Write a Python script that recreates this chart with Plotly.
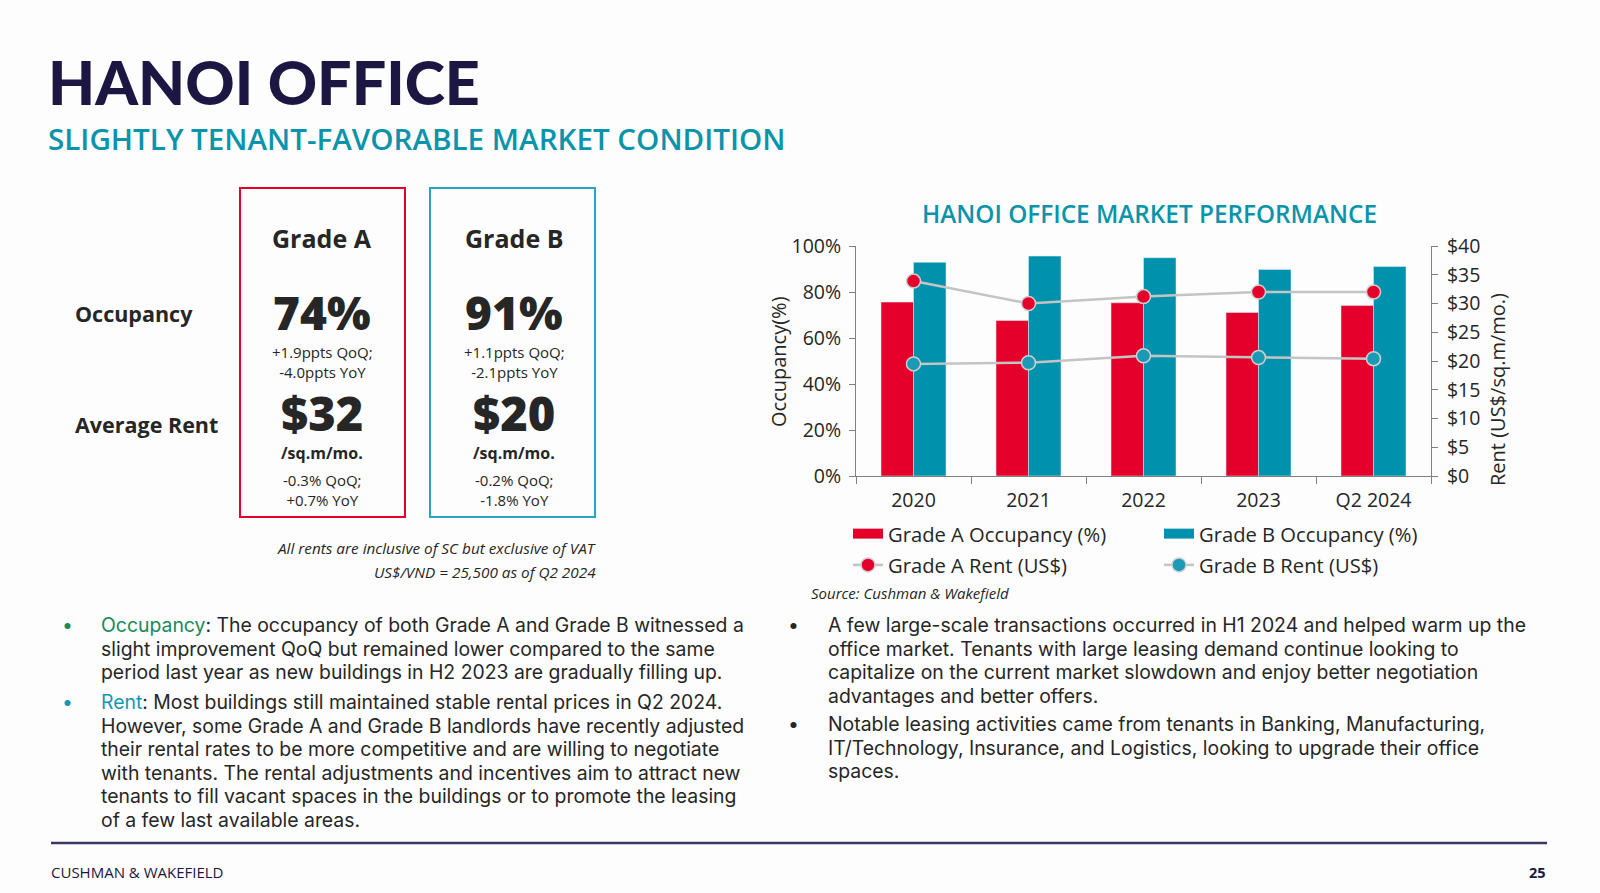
import plotly.graph_objects as go

# ---------------- data ----------------
categories = ["2020", "2021", "2022", "2023", "Q2 2024"]
grade_a_occ = [75.6, 67.6, 75.3, 71.1, 74.1]
grade_b_occ = [92.9, 95.6, 94.9, 89.8, 91.1]
grade_a_rent = [33.9, 30.0, 31.2, 32.0, 32.0]
grade_b_rent = [19.5, 19.7, 20.9, 20.6, 20.4]

left_ticks = [0, 20, 40, 60, 80, 100]
left_labels = [f"{v}%" for v in left_ticks]
right_ticks = [0, 5, 10, 15, 20, 25, 30, 35, 40]
right_labels = [f"${v}" for v in right_ticks]

RED = "#e4002b"
TEAL = "#0092ad"
TEAL_BOX = "#2aa3c3"
TEAL_TXT = "#0a94ab"
NAVY = "#1c1642"
DARK = "#262626"
GRAY_AX = "#808080"
FONT = "Open Sans"
BODY_FONT = "Inter"

W, H = 1600, 893
L, R, T, B = 856, 1431, 246, 476


def fx(px):
    return (px - L) / (R - L)


def fy(py):
    return (B - py) / (B - T)


fig = go.Figure()

fig.add_trace(go.Bar(x=categories, y=grade_a_occ, name="Grade A Occupancy (%)",
                     marker_color=RED, showlegend=False, yaxis="y"))
fig.add_trace(go.Bar(x=categories, y=grade_b_occ, name="Grade B Occupancy (%)",
                     marker_color=TEAL, showlegend=False, yaxis="y"))

# legend swatches for the bars (wide rectangles)
fig.add_trace(go.Scatter(x=[None], y=[None], mode="lines", name="Grade A Occupancy (%)",
                         line=dict(color=RED, width=10), legend="legend",
                         legendgroup="a1", legendrank=1))
fig.add_trace(go.Scatter(x=[None], y=[None], mode="lines", name="Grade B Occupancy (%)",
                         line=dict(color=TEAL, width=10), legend="legend2",
                         legendgroup="b1", legendrank=1))

fig.add_trace(go.Scatter(x=categories, y=grade_a_rent, name="Grade A Rent (US$)", yaxis="y2",
                         mode="lines+markers", line=dict(color="#c4c4c4", width=2.5),
                         marker=dict(color=RED, size=14, line=dict(color="#d0d0d0", width=1.5)),
                         legend="legend", legendgroup="a2", legendrank=2))
fig.add_trace(go.Scatter(x=categories, y=grade_b_rent, name="Grade B Rent (US$)", yaxis="y2",
                         mode="lines+markers", line=dict(color="#c4c4c4", width=2.5),
                         marker=dict(color="#1a9ab5", size=14, line=dict(color="#d0d0d0", width=1.5)),
                         legend="legend2", legendgroup="b2", legendrank=2))

legend_common = dict(orientation="v", xref="container", yref="container", xanchor="left",
                     yanchor="top", bgcolor="rgba(0,0,0,0)", tracegroupgap=2,
                     font=dict(family=FONT, size=20.2, color=DARK), itemwidth=30)

tickfont = dict(family=FONT, size=19.5, color=DARK)

fig.update_layout(
    width=W, height=H,
    margin=dict(l=L, r=W - R, t=T, b=H - B, autoexpand=False),
    paper_bgcolor="#fdfdfd", plot_bgcolor="rgba(0,0,0,0)",
    barmode="group", bargap=0.435, bargroupgap=0,
    font=dict(family=FONT, color=DARK),
    legend=dict(x=848 / W, y=1 - 514 / H, **legend_common),
    legend2=dict(x=1159 / W, y=1 - 514 / H, **legend_common),
    xaxis=dict(type="category", showline=True, linecolor=GRAY_AX, linewidth=1,
               ticks="outside", tickson="boundaries", ticklen=7, tickcolor=GRAY_AX,
               tickfont=tickfont, showgrid=False, ticklabelstandoff=7),
    yaxis=dict(range=[0, 100], tickmode="array", tickvals=left_ticks, ticktext=left_labels,
               showline=True, linecolor=GRAY_AX, ticks="outside", ticklen=6, tickcolor=GRAY_AX,
               showgrid=False, zeroline=False, tickfont=tickfont, ticklabelstandoff=4),
    yaxis2=dict(range=[0, 40], tickmode="array", tickvals=right_ticks, ticktext=right_labels,
                overlaying="y", side="right",
                showline=True, linecolor=GRAY_AX, ticks="outside", ticklen=6, tickcolor=GRAY_AX,
                showgrid=False, zeroline=False, tickfont=tickfont, ticklabelstandoff=5),
)

ann = []


def text(x, y, s, size, color=DARK, bold=False, italic=False, xanchor="left", align="left",
         family=FONT, weight=None, angle=0):
    f = dict(family=family, size=size, color=color)
    if weight is not None:
        f["weight"] = weight
    elif bold:
        f["weight"] = "bold"
    if italic:
        f["style"] = "italic"
    ann.append(dict(x=fx(x), y=fy(y), xref="paper", yref="paper", text=s, showarrow=False,
                    xanchor=xanchor, yanchor="middle", align=align, font=f, textangle=angle))


# headings
text(46, 82, "HANOI OFFICE", 61, color=NAVY, weight=900, family="Lato")
text(46, 138, "SLIGHTLY TENANT-FAVORABLE MARKET CONDITION", 29.6, color=TEAL_TXT, weight=600)

# chart title / axis titles / source
text(1149, 213, "HANOI OFFICE MARKET PERFORMANCE", 24.3, color=TEAL_TXT, weight=600, xanchor="center")
text(778, 362, "Occupancy(%)", 20, angle=-90, xanchor="center")
text(1497, 390, "Rent (US$/sq.m/mo.)", 20, angle=-90, xanchor="center")
text(809, 593, "Source: Cushman &amp; Wakefield", 15, italic=True)

# KPI boxes
shapes = [
    dict(type="rect", xref="paper", yref="paper", x0=fx(240), x1=fx(405), y0=fy(188), y1=fy(517),
         line=dict(color=RED, width=2)),
    dict(type="rect", xref="paper", yref="paper", x0=fx(430), x1=fx(595), y0=fy(188), y1=fy(517),
         line=dict(color=TEAL_BOX, width=2)),
    dict(type="line", xref="paper", yref="paper", x0=fx(51), x1=fx(1547), y0=fy(843), y1=fy(843),
         line=dict(color="#3b3763", width=2.5)),
]

text(73, 313, "Occupancy", 21.5, bold=True)
text(73, 424, "Average Rent", 21.5, bold=True)
for cx, g, occ, occ1, occ2, rent, r1, r2 in [
    (322, "Grade A", "74%", "+1.9ppts QoQ;", "-4.0ppts YoY", "$32", "-0.3% QoQ;", "+0.7% YoY"),
    (514, "Grade B", "91%", "+1.1ppts QoQ;", "-2.1ppts YoY", "$20", "-0.2% QoQ;", "-1.8% YoY"),
]:
    text(cx, 238, g, 25, bold=True, xanchor="center", align="center")
    text(cx, 312, occ, 46, weight=800, xanchor="center", align="center")
    text(cx, 362, occ1 + "<br>" + occ2, 15, xanchor="center", align="center")
    text(cx, 413, rent, 47, weight=800, xanchor="center", align="center")
    text(cx, 453, "/sq.m/mo.", 16, bold=True, xanchor="center", align="center")
    text(cx, 490, r1 + "<br>" + r2, 15, xanchor="center", align="center")

text(598, 548, "All rents are inclusive of SC but exclusive of VAT", 15.3, italic=True, xanchor="right")
text(598, 572, "US$/VND = 25,500 as of Q2 2024", 15.3, italic=True, xanchor="right")

# bullet paragraphs: one annotation per paragraph; the base font size sets the
# line pitch (1.3 x base) while the glyphs are drawn at BODY size through a span.
LH = 23.6
BASE = LH / 1.3
BODY = 19.4


def para(xb, xt, y_first, lines, bullet_color, lead=None, lead_color=None):
    n = len(lines)
    rows = []
    for i, ln in enumerate(lines):
        if i == 0 and lead:
            rows.append(f"<span style='font-size:{BODY}px;color:{lead_color}'>{lead}</span>"
                        f"<span style='font-size:{BODY}px'>{ln}</span>")
        else:
            rows.append(f"<span style='font-size:{BODY}px'>{ln}</span>")
    text(xt, y_first + (n - 1) * LH / 2, "<br>".join(rows), BASE, family=BODY_FONT)
    text(xb, y_first, "•", BODY, color=bullet_color, family=BODY_FONT)


para(60, 99, 625, [
    ": The occupancy of both Grade A and Grade B witnessed a",
    "slight improvement QoQ but remained lower compared to the same",
    "period last year as new buildings in H2 2023 are gradually filling up.",
], "#1a8a5c", lead="Occupancy", lead_color="#1a8a5c")
para(60, 99, 702, [
    ": Most buildings still maintained stable rental prices in Q2 2024.",
    "However, some Grade A and Grade B landlords have recently adjusted",
    "their rental rates to be more competitive and are willing to negotiate",
    "with tenants. The rental adjustments and incentives aim to attract new",
    "tenants to fill vacant spaces in the buildings or to promote the leasing",
    "of a few last available areas.",
], "#1596b5", lead="Rent", lead_color="#1596b5")
para(786, 826, 625, [
    "A few large-scale transactions occurred in H1 2024 and helped warm up the",
    "office market. Tenants with large leasing demand continue looking to",
    "capitalize on the current market slowdown and enjoy better negotiation",
    "advantages and better offers.",
], DARK)
para(786, 826, 724, [
    "Notable leasing activities came from tenants in Banking, Manufacturing,",
    "IT/Technology, Insurance, and Logistics, looking to upgrade their office",
    "spaces.",
], DARK)

# footer
text(49, 872, "CUSHMAN &amp; WAKEFIELD", 15, color=NAVY)
text(1548, 872, "25", 14.5, color=NAVY, bold=True, xanchor="right")

fig.update_layout(annotations=ann, shapes=shapes)
fig.write_html("out.html", config={"displayModeBar": False},
               post_script="document.body.style.margin='0';")
